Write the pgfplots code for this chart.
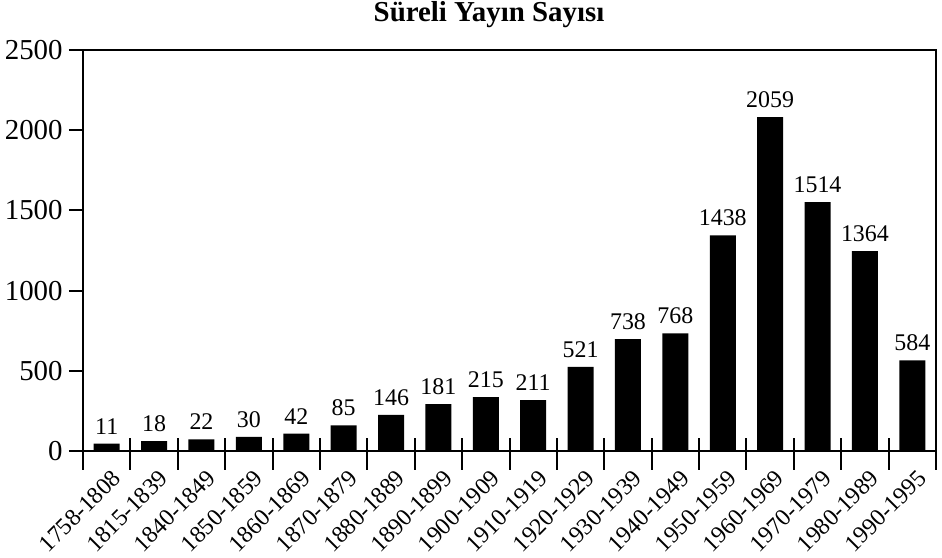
\documentclass[border=0pt]{standalone}
\usepackage{fontspec}
\setmainfont{Liberation Serif}
\usepackage{pgfplots}
\pgfplotsset{compat=1.18}
\usepackage{pgfplotstable}
\usetikzlibrary{calc}

% bar heights as drawn in the scan; printed labels in lab
\pgfplotstableread{
x h lab
0 46 11
1 62 18
2 73 22
3 88 30
4 109 42
5 159 85
6 225 146
7 292 181
8 336 215
9 317 211
10 525 521
11 698 738
12 734 768
13 1344 1438
14 2081 2059
15 1552 1514
16 1246 1364
17 565 584
}\yayin

\begin{document}
\begin{tikzpicture}
\begin{axis}[
  scale only axis, width=426.5bp, height=200.5bp,
  xmin=-0.5, xmax=17.5, ymin=0, ymax=2500,
  ybar, bar width=13bp,
  axis line style={line width=1.2bp},
  major tick length=0pt,
  xtick={0,...,17},
  xticklabels={1758-1808,1815-1839,1840-1849,1850-1859,1860-1869,1870-1879,1880-1889,1890-1899,1900-1909,1910-1919,1920-1929,1930-1939,1940-1949,1950-1959,1960-1969,1970-1979,1980-1989,1990-1995},
  x tick label style={font=\fontsize{12}{14}\selectfont, inner sep=0pt, xshift=5bp, yshift=-11.5bp, rotate=45, anchor=east},
  ytick={0,500,...,2500},
  yticklabel style={font=\fontsize{14.5}{16}\selectfont, inner sep=0pt, xshift=-10bp},
  /pgf/number format/assume math mode=true,
  /pgf/number format/1000 sep={},
  extra y ticks={0,500,...,2500}, extra y tick labels={},
  extra y tick style={major tick length=7bp, tick align=outside, ytick pos=left, tick style={line width=1bp, black}},
  extra x ticks={-0.5,0.5,...,17.5}, extra x tick labels={},
  extra x tick style={major tick length=15.7bp, tick align=outside, xtick pos=bottom, tick style={line width=1bp, black, yshift=6.35bp}},
  title={Süreli Yayın Sayısı},
  every axis title shift=0pt,
  title style={font=\bfseries\fontsize{14.5}{16}\selectfont, at={(rel axis cs:0.476,1)}, anchor=base, yshift=14.5bp},
]
\addplot[fill=black, draw=none, nodes near coords, point meta=explicit symbolic,
  every node near coord/.append style={font=\fontsize{12}{14}\selectfont, inner sep=0pt, anchor=south, yshift=4.5bp}]
  table[x=x, y=h, meta=lab] {\yayin};
\end{axis}
\pgfresetboundingbox
\path[use as bounding box] ($(current axis.south west)+(-41.5bp,-53.5bp)$) rectangle ($(current axis.north east)+(3bp,25bp)$);
\end{tikzpicture}
\end{document}
